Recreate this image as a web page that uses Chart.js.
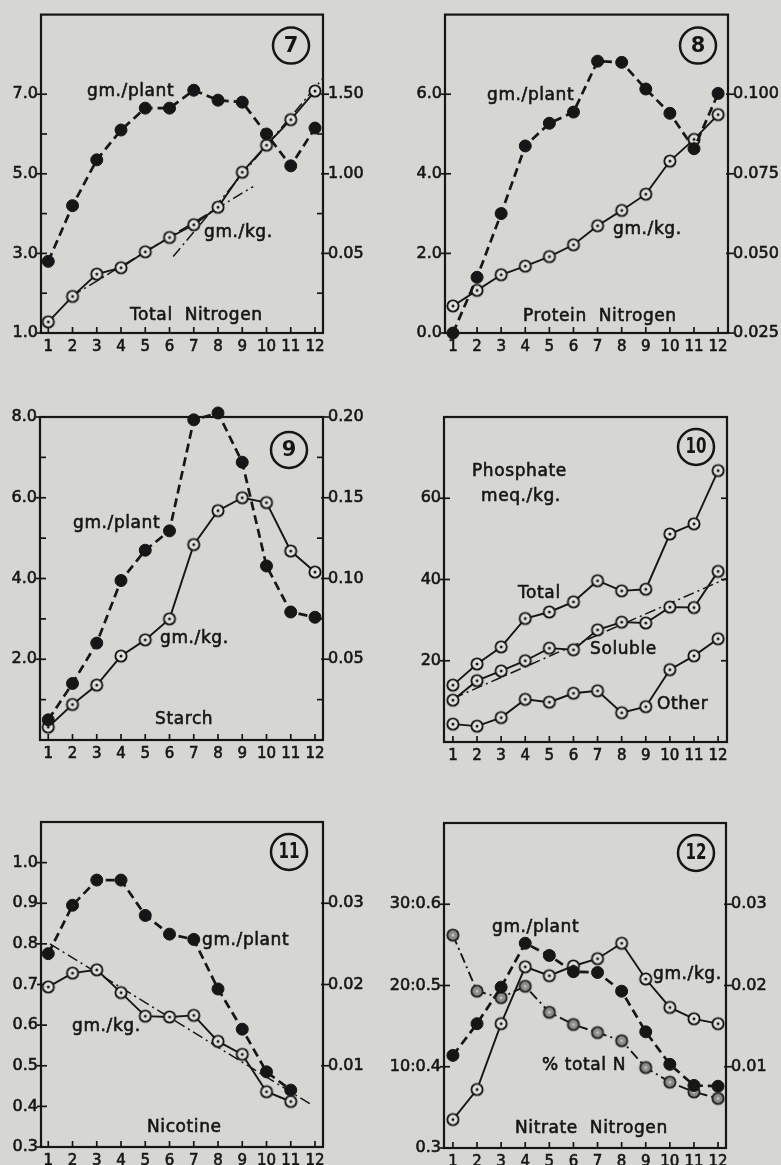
<!DOCTYPE html>
<html>
<head>
<meta charset="utf-8">
<script src="https://cdn.jsdelivr.net/npm/chart.js@4.4.0/dist/chart.umd.min.js"></script>
<style>
  html, body { margin: 0; padding: 0; }
  body { width: 781px; height: 1165px; background: #d6d6d3; position: relative; overflow: hidden; }
  canvas { position: absolute; }
</style>
</head>
<body>
<canvas id="fig7"  width="370" height="380" style="left:0;top:0"></canvas>
<canvas id="fig8"  width="411" height="380" style="left:370px;top:0"></canvas>
<canvas id="fig9"  width="370" height="410" style="left:0;top:380px"></canvas>
<canvas id="fig10" width="411" height="410" style="left:370px;top:380px"></canvas>
<canvas id="fig11" width="370" height="375" style="left:0;top:790px"></canvas>
<canvas id="fig12" width="411" height="375" style="left:370px;top:790px"></canvas>
<script>
// Harvest numbers along every x axis
const harvests = [1, 2, 3, 4, 5, 6, 7, 8, 9, 10, 11, 12];
const harvestLabels = ['1', '2', '3', '4', '5', '6', '7', '8', '9', '10', '11', '12'];

// Fig. 7 — total nitrogen
const totalNPerPlant = [2.8, 4.2, 5.35, 6.1, 6.65, 6.65, 7.1, 6.85, 6.8, 6.0, 5.2, 6.15];
const totalNPerKg    = [0.07, 0.23, 0.37, 0.41, 0.51, 0.60, 0.68, 0.79, 1.01, 1.18, 1.34, 1.52];
const totalNTrendAx  = [1.95, 9.45];
const totalNTrendAy  = [0.23, 0.92];
const totalNTrendBx  = [6.15, 12.33];
const totalNTrendBy  = [0.48, 1.60];
const fig7LeftTicks   = [1, 2, 3, 4, 5, 6, 7];
const fig7LeftLabels  = ['1.0', '', '3.0', '', '5.0', '', '7.0'];
const fig7RightTicks  = [0.25, 0.5, 0.75, 1.0, 1.25, 1.5];
const fig7RightLabels = ['', '0.05', '', '1.00', '', '1.50'];

// Fig. 8 — protein nitrogen
const proteinNPerPlant = [0.0, 1.4, 3.0, 4.7, 5.27, 5.55, 6.83, 6.8, 6.13, 5.52, 4.63, 6.02];
const proteinNPerKg    = [0.0335, 0.0384, 0.0433, 0.046, 0.049, 0.0527, 0.0587, 0.0635, 0.0686, 0.079, 0.0858, 0.0936];
const fig8LeftTicks   = [0, 2, 4, 6];
const fig8LeftLabels  = ['0.0', '2.0', '4.0', '6.0'];
const fig8RightTicks  = [0.025, 0.05, 0.075, 0.1];
const fig8RightLabels = ['0.025', '0.050', '0.075', '0.100'];

// Fig. 9 — starch
const starchPerPlant = [0.5, 1.4, 2.4, 3.95, 4.7, 5.18, 7.93, 8.1, 6.88, 4.31, 3.17, 3.04];
const starchPerKg    = [0.008, 0.022, 0.034, 0.052, 0.062, 0.075, 0.121, 0.142, 0.150, 0.147, 0.117, 0.104];
const fig9LeftTicks   = [1, 2, 3, 4, 5, 6, 7, 8];
const fig9LeftLabels  = ['', '2.0', '', '4.0', '', '6.0', '', '8.0'];
const fig9RightTicks  = [0.025, 0.05, 0.075, 0.1, 0.125, 0.15, 0.175, 0.2];
const fig9RightLabels = ['', '0.05', '', '0.10', '', '0.15', '', '0.20'];

// Fig. 10 — phosphate, meq./kg.
const phosphateTotal   = [14.0, 19.2, 23.4, 30.4, 32.0, 34.5, 39.7, 37.2, 37.6, 51.2, 53.7, 66.8];
const phosphateSoluble = [10.3, 15.1, 17.5, 20.0, 23.1, 22.7, 27.6, 29.5, 29.3, 33.2, 33.1, 42.0];
const phosphateOther   = [4.4, 3.9, 6.0, 10.5, 9.8, 12.0, 12.6, 7.2, 8.7, 17.8, 21.2, 25.4];
const solubleTrendX = [1.0, 12.37];
const solubleTrendY = [10.7, 40.3];
const fig10LeftTicks   = [20, 40, 60];
const fig10LeftLabels  = ['20', '40', '60'];
const fig10RightTicks  = [20, 40, 60];
const fig10RightLabels = ['', '', ''];

// Fig. 11 — nicotine (no 12th harvest)
const nicotinePerPlant = [0.776, 0.895, 0.957, 0.957, 0.870, 0.824, 0.811, 0.689, 0.590, 0.485, 0.440];
const nicotinePerKg    = [0.0197, 0.0214, 0.0218, 0.019, 0.0161, 0.016, 0.0162, 0.013, 0.0114, 0.0068, 0.0056];
const nicotineTrendX = [1.07, 11.8];
const nicotineTrendY = [0.025, 0.0053];
const fig11LeftTicks   = [0.3, 0.4, 0.5, 0.6, 0.7, 0.8, 0.9, 1.0];
const fig11LeftLabels  = ['0.3', '0.4', '0.5', '0.6', '0.7', '0.8', '0.9', '1.0'];
const fig11RightTicks  = [0.01, 0.02, 0.03];
const fig11RightLabels = ['0.01', '0.02', '0.03'];

// Fig. 12 — nitrate nitrogen
const nitratePerPlant   = [0.414, 0.453, 0.498, 0.552, 0.537, 0.517, 0.516, 0.493, 0.443, 0.403, 0.377, 0.376];
const nitratePerKg      = [0.0035, 0.0072, 0.0153, 0.0223, 0.0212, 0.0224, 0.0233, 0.0252, 0.0208, 0.0173, 0.0159, 0.0153];
const nitratePctTotalN  = [26.2, 19.3, 18.5, 19.9, 16.7, 15.2, 14.2, 13.2, 9.9, 8.1, 6.9, 6.1];
const fig12LeftTicks   = [0.3, 0.4, 0.5, 0.6];
const fig12LeftLabels  = ['0.3', '10:0.4', '20:0.5', '30:0.6'];
const fig12RightTicks  = [0.01, 0.02, 0.03];
const fig12RightLabels = ['0.01', '0.02', '0.03'];

// ---------- drawing helpers ----------
const INK = '#161616';
const tickFont = { family: 'DejaVu Sans', size: 16 };
const xTickFont = { family: 'DejaVu Sans', size: 15 };
const noteFont = '17px "DejaVu Sans"';

function ringMarker(fill, stroke, centre) {
  const c = document.createElement('canvas');
  c.width = c.height = 16;
  const g = c.getContext('2d');
  g.beginPath(); g.arc(8, 8, 5.6, 0, Math.PI * 2);
  g.fillStyle = fill; g.fill();
  g.lineWidth = 1.9; g.strokeStyle = stroke; g.stroke();
  g.beginPath(); g.arc(8, 8, 1.5, 0, Math.PI * 2);
  g.fillStyle = centre; g.fill();
  return c;
}
const OPEN_RING = ringMarker('#e2e2df', INK, INK);
const GREY_RING = ringMarker('#8b8b88', '#222', '#c4c4c0');

function pts(xs, ys) { return ys.map((y, i) => ({ x: xs[i], y })); }

function perPlant(data, axis) {
  return { data, yAxisID: axis || 'y', borderColor: INK, borderWidth: 2.7, borderDash: [9, 5],
    pointStyle: 'circle', pointRadius: 6, pointBorderWidth: 1, pointBackgroundColor: INK,
    pointBorderColor: INK, clip: false, tension: 0, fill: false };
}
function perKg(data, axis) {
  return { data, yAxisID: axis || 'y2', borderColor: INK, borderWidth: 1.9,
    pointStyle: OPEN_RING, pointRadius: 6, clip: false, tension: 0, fill: false };
}
function pctLine(data, axis) {
  return { data, yAxisID: axis, borderColor: INK, borderWidth: 1.9, borderDash: [10, 4, 2, 4],
    pointStyle: GREY_RING, pointRadius: 6, clip: false, tension: 0, fill: false };
}
function trend(data, axis) {
  return { data, yAxisID: axis, borderColor: INK, borderWidth: 1.5, borderDash: [11, 4, 2, 4],
    pointRadius: 0, clip: false, tension: 0, fill: false };
}

function fixedTicks(values) {
  return s => { s.ticks = values.map(v => ({ value: v })); };
}

function buildPanel(id, p) {
  const cv = document.getElementById(id);
  const W = cv.width, H = cv.height;

  const decor = {
    id: 'decor',
    beforeDatasetsDraw(chart) {
      const { ctx, chartArea: a, scales } = chart;
      ctx.save();
      ctx.strokeStyle = INK;
      ctx.lineWidth = 2.2;
      ctx.strokeRect(a.left, a.top, a.right - a.left, a.bottom - a.top);
      ctx.lineWidth = 1.7;
      const seg = (x1, y1, x2, y2) => { ctx.beginPath(); ctx.moveTo(x1, y1); ctx.lineTo(x2, y2); ctx.stroke(); };
      harvests.forEach(h => {
        const px = scales.x.getPixelForValue(h);
        seg(px, a.bottom, px, a.bottom - 6);
      });
      p.leftTicks.forEach((v, i) => {
        const py = scales.y.getPixelForValue(v);
        seg(p.leftLabels[i] ? a.left - 4 : a.left, py, a.left + 6, py);
      });
      p.rightTicks.forEach((v, i) => {
        const py = scales.y2.getPixelForValue(v);
        if (p.rightLabels[i]) seg(a.right - 2, py, a.right + 6, py);
        else seg(a.right - 6, py, a.right, py);
      });
      // figure number in a ring
      const cx = a.left + p.badge[0], cy = a.top + p.badge[1];
      ctx.lineWidth = 2.5;
      ctx.beginPath(); ctx.arc(cx, cy, 18, 0, Math.PI * 2); ctx.stroke();
      ctx.fillStyle = INK;
      ctx.font = 'bold 21px "DejaVu Sans"';
      ctx.textAlign = 'center';
      ctx.textBaseline = 'middle';
      ctx.fillText(p.number, cx, cy + 1, 21);
      // curve captions
      ctx.font = noteFont;
      ctx.textAlign = 'left';
      ctx.textBaseline = 'alphabetic';
      ctx.letterSpacing = '0.6px';
      ctx.lineWidth = 0.6;
      p.notes.forEach(n => {
        ctx.fillText(n[0], a.left + n[1], a.top + n[2]);
        ctx.strokeText(n[0], a.left + n[1], a.top + n[2]);
      });
      ctx.restore();
    }
  };

  const tickText = { color: INK, textStrokeColor: INK, textStrokeWidth: 0.6, autoSkip: false };

  const scales = {
    x: {
      type: 'linear', position: 'bottom', min: p.xMin, max: p.xMax,
      grid: { display: false, drawTicks: false }, border: { display: false },
      afterBuildTicks: fixedTicks(harvests),
      afterFit: s => { s.height = H - p.box.bottom; },
      ticks: Object.assign({ font: xTickFont, padding: 5, maxRotation: 0,
        callback: (v, i) => harvestLabels[i] }, tickText)
    },
    y: {
      type: 'linear', position: 'left', min: p.yMin, max: p.yMax,
      grid: { display: false, drawTicks: false }, border: { display: false },
      afterBuildTicks: fixedTicks(p.leftTicks),
      afterFit: s => { s.width = p.box.left; },
      ticks: Object.assign({ font: tickFont, padding: 3,
        callback: (v, i) => p.leftLabels[i] }, tickText)
    },
    y2: {
      type: 'linear', position: 'right', min: p.y2Min, max: p.y2Max,
      grid: { display: false, drawTicks: false }, border: { display: false },
      afterBuildTicks: fixedTicks(p.rightTicks),
      afterFit: s => { s.width = W - p.box.right; },
      ticks: Object.assign({ font: tickFont, padding: 5,
        callback: (v, i) => p.rightLabels[i] }, tickText)
    }
  };
  if (p.y3) {
    scales.y3 = { type: 'linear', display: false, min: p.y3[0], max: p.y3[1] };
  }

  new Chart(cv, {
    type: 'line',
    data: { datasets: p.datasets },
    options: {
      responsive: false, animation: false, events: [],
      layout: { padding: { top: p.box.top, left: 0, right: 0, bottom: 0 } },
      plugins: { legend: { display: false }, tooltip: { enabled: false } },
      scales
    },
    plugins: [decor]
  });
}

// ---------- the six panels ----------
buildPanel('fig7', {
  number: '7', box: { left: 41, right: 323, top: 13, bottom: 333 },
  xMin: 0.70, xMax: 12.33, yMin: 1, yMax: 9, y2Min: 0, y2Max: 2,
  leftTicks: fig7LeftTicks, leftLabels: fig7LeftLabels,
  rightTicks: fig7RightTicks, rightLabels: fig7RightLabels,
  badge: [250, 31],
  notes: [['gm./plant', 46, 81], ['gm./kg.', 163, 222], ['Total  Nitrogen', 89, 305]],
  datasets: [
    perPlant(pts(harvests, totalNPerPlant)),
    perKg(pts(harvests, totalNPerKg)),
    trend(pts(totalNTrendAx, totalNTrendAy), 'y2'),
    trend(pts(totalNTrendBx, totalNTrendBy), 'y2')
  ]
});

buildPanel('fig8', {
  number: '8', box: { left: 75, right: 358, top: 13, bottom: 333 },
  xMin: 0.67, xMax: 12.41, yMin: 0, yMax: 8, y2Min: 0.025, y2Max: 0.125,
  leftTicks: fig8LeftTicks, leftLabels: fig8LeftLabels,
  rightTicks: fig8RightTicks, rightLabels: fig8RightLabels,
  badge: [253, 31],
  notes: [['gm./plant', 42, 85], ['gm./kg.', 168, 219], ['Protein  Nitrogen', 78, 306]],
  datasets: [
    perPlant(pts(harvests, proteinNPerPlant)),
    perKg(pts(harvests, proteinNPerKg))
  ]
});

buildPanel('fig9', {
  number: '9', box: { left: 40, right: 323, top: 37, bottom: 360 },
  xMin: 0.66, xMax: 12.33, yMin: 0, yMax: 8, y2Min: 0, y2Max: 0.2,
  leftTicks: fig9LeftTicks, leftLabels: fig9LeftLabels,
  rightTicks: fig9RightTicks, rightLabels: fig9RightLabels,
  badge: [249, 33],
  notes: [['gm./plant', 33, 111], ['gm./kg.', 120, 226], ['Starch', 115, 307]],
  datasets: [
    perPlant(pts(harvests, starchPerPlant)),
    perKg(pts(harvests, starchPerKg))
  ]
});

buildPanel('fig10', {
  number: '10', box: { left: 74, right: 357, top: 37, bottom: 362 },
  xMin: 0.63, xMax: 12.37, yMin: 0, yMax: 80, y2Min: 0, y2Max: 80,
  leftTicks: fig10LeftTicks, leftLabels: fig10LeftLabels,
  rightTicks: fig10RightTicks, rightLabels: fig10RightLabels,
  badge: [252, 30],
  notes: [['Phosphate', 28, 59], ['meq./kg.', 37, 84], ['Total', 74, 181],
          ['Soluble', 146, 237], ['Other', 213, 292]],
  datasets: [
    perKg(pts(harvests, phosphateTotal), 'y'),
    perKg(pts(harvests, phosphateSoluble), 'y'),
    perKg(pts(harvests, phosphateOther), 'y'),
    trend(pts(solubleTrendX, solubleTrendY), 'y')
  ]
});

buildPanel('fig11', {
  number: '11', box: { left: 41, right: 323, top: 32, bottom: 357 },
  xMin: 0.70, xMax: 12.33, yMin: 0.3, yMax: 1.1, y2Min: 0, y2Max: 0.04,
  leftTicks: fig11LeftTicks, leftLabels: fig11LeftLabels,
  rightTicks: fig11RightTicks, rightLabels: fig11RightLabels,
  badge: [248, 30],
  notes: [['gm./plant', 161, 123], ['gm./kg.', 31, 209], ['Nicotine', 106, 310]],
  datasets: [
    perPlant(pts(harvests, nicotinePerPlant)),
    perKg(pts(harvests, nicotinePerKg)),
    trend(pts(nicotineTrendX, nicotineTrendY), 'y2')
  ]
});

buildPanel('fig12', {
  number: '12', box: { left: 74, right: 356, top: 33, bottom: 358 },
  xMin: 0.63, xMax: 12.33, yMin: 0.3, yMax: 0.7, y2Min: 0, y2Max: 0.04, y3: [0, 40],
  leftTicks: fig12LeftTicks, leftLabels: fig12LeftLabels,
  rightTicks: fig12RightTicks, rightLabels: fig12RightLabels,
  badge: [252, 30],
  notes: [['gm./plant', 48, 109], ['gm./kg.', 209, 156], ['% total N', 98, 247],
          ['Nitrate  Nitrogen', 71, 310]],
  datasets: [
    perPlant(pts(harvests, nitratePerPlant)),
    perKg(pts(harvests, nitratePerKg)),
    pctLine(pts(harvests, nitratePctTotalN), 'y3')
  ]
});
</script>
</body>
</html>
